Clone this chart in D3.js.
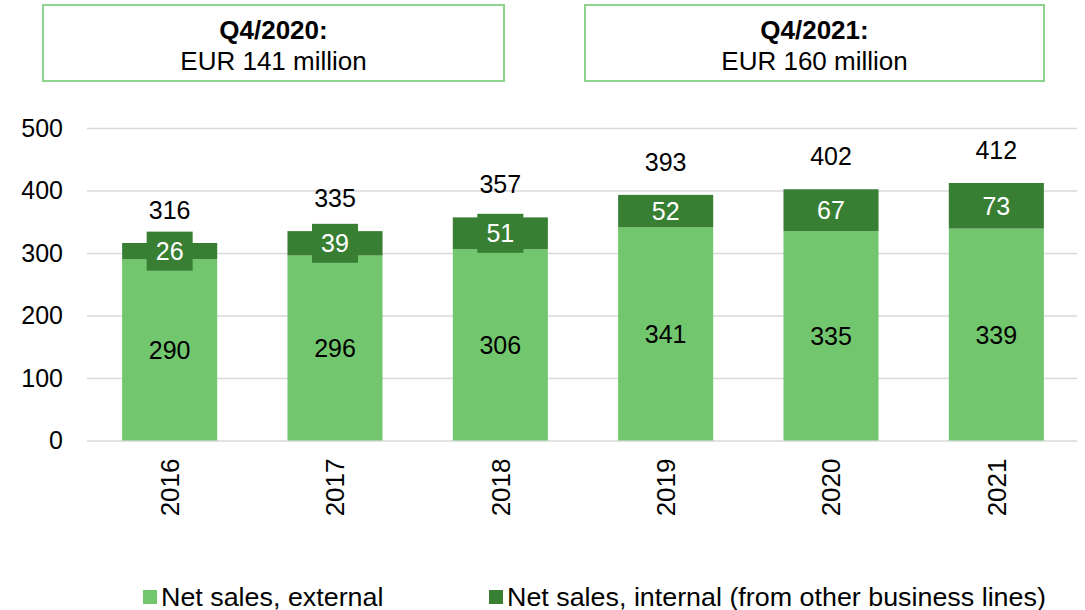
<!DOCTYPE html>
<html>
<head>
<meta charset="utf-8">
<script src="https://cdn.jsdelivr.net/npm/d3@7"></script>
<style>
  body { margin: 0; background: #fff; }
  svg { font-family: "Liberation Sans", Arial, sans-serif; }
</style>
</head>
<body>
<svg id="chart"></svg>
<script>
const years = ['2016', '2017', '2018', '2019', '2020', '2021']
const external = [290, 296, 306, 341, 335, 339]
const internal = [26, 39, 51, 52, 67, 73]
const totals = [316, 335, 357, 393, 402, 412]
const yTicks = [0, 100, 200, 300, 400, 500]
const callouts = [
    {title: 'Q4/2020:', text: 'EUR 141 million'},
    {title: 'Q4/2021:', text: 'EUR 160 million'}
]
const legendLabels = ['Net sales, external', 'Net sales, internal (from other business lines)']

const width = 1085
const height = 610
const lightGreen = '#72c76e'
const darkGreen = '#387f33'

const margin = ({top: 128, right: 6, bottom: 170, left: 87})

const svg = d3.select('#chart')
    .attr('width', width)
    .attr('height', height)

// scales
const x = d3.scaleBand()
    .domain(years)
    .range([margin.left, width - margin.right])
    .paddingInner(0.425)
    .paddingOuter(0.2125)

const y = d3.scaleLinear()
    .domain([0, 500])
    .range([440.5, 128])

// grid + y labels
svg.append('g')
    .attr('transform', `translate(${margin.left}, 0)`)
    .call(d3.axisLeft(y).tickValues(yTicks).tickSize(-(width - margin.right - margin.left - 2)).tickPadding(24))
    .call(g => g.select('.domain').remove())
    .call(g => g.selectAll('.tick line').attr('stroke', '#d9d9d9').attr('stroke-width', 1.5))
    .call(g => g.selectAll('.tick text')
        .attr('font-size', 25)
        .attr('fill', '#000'))

// x labels
svg.append('g')
    .attr('transform', `translate(0, ${y(0)})`)
    .call(d3.axisBottom(x).tickSize(0))
    .call(g => g.select('.domain').remove())
    .call(g => g.selectAll('.tick text')
        .attr('font-size', 26)
        .attr('fill', '#000')
        .attr('transform', 'rotate(-90)')
        .attr('text-anchor', 'end')
        .attr('x', -18)
        .attr('y', 0)
        .attr('dy', '0.36em'))

const rows = years.map((yr, i) => ({year: yr, ext: external[i], int: internal[i], total: totals[i]}))

// bars - external
svg.append('g')
    .selectAll('rect')
    .data(rows)
    .join('rect')
    .attr('x', d => x(d.year))
    .attr('width', x.bandwidth())
    .attr('y', d => y(d.ext))
    .attr('height', d => y(0) - y(d.ext))
    .attr('fill', lightGreen)

// bars - internal
svg.append('g')
    .selectAll('rect')
    .data(rows)
    .join('rect')
    .attr('x', d => x(d.year))
    .attr('width', x.bandwidth())
    .attr('y', d => y(d.ext + d.int))
    .attr('height', d => y(d.ext) - y(d.ext + d.int))
    .attr('fill', darkGreen)

// labels
const lab = svg.append('g').attr('font-size', 25).attr('text-anchor', 'middle')

lab.selectAll('.ext')
    .data(rows)
    .join('text')
    .attr('x', d => x(d.year) + x.bandwidth() / 2)
    .attr('y', d => (y(0) + y(d.ext)) / 2)
    .attr('dy', '0.36em')
    .attr('fill', '#000')
    .text(d => d.ext)

// label boxes stick out on the thin segments (first three years)
lab.selectAll('.intbox')
    .data(rows.filter(d => d.int <= 51))
    .join('rect')
    .attr('x', d => x(d.year) + x.bandwidth() / 2 - 23)
    .attr('y', d => (y(d.ext) + y(d.ext + d.int)) / 2 - 19.5)
    .attr('width', 46)
    .attr('height', 39)
    .attr('fill', darkGreen)

lab.selectAll('.int')
    .data(rows)
    .join('text')
    .attr('x', d => x(d.year) + x.bandwidth() / 2)
    .attr('y', d => (y(d.ext) + y(d.ext + d.int)) / 2)
    .attr('dy', '0.36em')
    .attr('fill', '#fff')
    .text(d => d.int)

lab.selectAll('.tot')
    .data(rows)
    .join('text')
    .attr('x', d => x(d.year) + x.bandwidth() / 2)
    .attr('y', d => y(d.total) - 24)
    .attr('fill', '#000')
    .text(d => d.total)

// callout boxes
const boxes = [{x: 43, w: 461}, {x: 585, w: 459}]
const co = svg.append('g')
    .selectAll('g')
    .data(callouts)
    .join('g')
    .attr('transform', (d, i) => `translate(${boxes[i].x}, 5)`)

co.append('rect')
    .attr('width', (d, i) => boxes[i].w)
    .attr('height', 76)
    .attr('fill', '#fff')
    .attr('stroke', '#8fd38c')
    .attr('stroke-width', 2)

co.append('text')
    .attr('x', (d, i) => boxes[i].w / 2)
    .attr('y', 34)
    .attr('text-anchor', 'middle')
    .attr('font-size', 26)
    .attr('font-weight', 'bold')
    .text(d => d.title)

co.append('text')
    .attr('x', (d, i) => boxes[i].w / 2)
    .attr('y', 65)
    .attr('text-anchor', 'middle')
    .attr('font-size', 26)
    .text(d => d.text)

// legend
const legendX = [143, 489]
const lg = svg.append('g')
    .selectAll('g')
    .data(legendLabels)
    .join('g')
    .attr('transform', (d, i) => `translate(${legendX[i]}, 590)`)

lg.append('rect')
    .attr('width', 14)
    .attr('height', 14)
    .attr('fill', (d, i) => i === 0 ? lightGreen : darkGreen)

lg.append('text')
    .attr('transform', 'translate(18, 16) scale(1.075, 1)')
    .attr('font-size', 25)
    .text(d => d)
</script>
</body>
</html>
